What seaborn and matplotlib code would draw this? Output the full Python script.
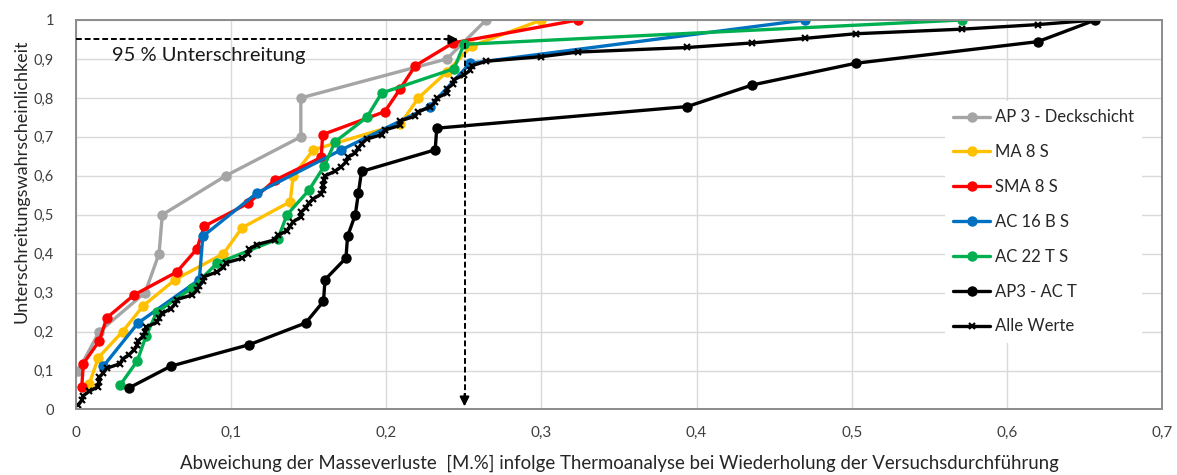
import numpy as np
import matplotlib
matplotlib.use("Agg")
import matplotlib.pyplot as plt
import seaborn as sns
from matplotlib.ticker import FuncFormatter

# Abweichung der Masseverluste [M.%] je Mischgut, aufsteigend sortiert
ap3_deckschicht = [0.0015, 0.015, 0.0445, 0.0535, 0.0556, 0.0965, 0.1449, 0.1449, 0.239, 0.2643]
ma_8_s = [0.0086, 0.0144, 0.030, 0.0434, 0.0638, 0.095, 0.107, 0.138, 0.140, 0.153,
          0.209, 0.2207, 0.239, 0.255, 0.300]
sma_8_s = [0.0037, 0.0047, 0.015, 0.0198, 0.0374, 0.0649, 0.0778, 0.0827, 0.111, 0.128,
           0.158, 0.159, 0.199, 0.209, 0.2186, 0.243, 0.3235]
ac_16_b_s = [0.0176, 0.040, 0.0795, 0.0817, 0.1165, 0.171, 0.228, 0.254, 0.470]
ac_22_t_s = [0.0284, 0.0395, 0.045, 0.052, 0.075, 0.0907, 0.130, 0.136, 0.150, 0.160,
             0.167, 0.1874, 0.197, 0.2437, 0.250, 0.571]
ap3_ac_t = [0.0342, 0.061, 0.1118, 0.148, 0.1595, 0.1605, 0.174, 0.175, 0.180, 0.182,
            0.184, 0.2315, 0.2325, 0.394, 0.436, 0.5025, 0.620, 0.657]

series_labels = ["AP 3 - Deckschicht", "MA 8 S", "SMA 8 S", "AC 16 B S", "AC 22 T S", "AP3 - AC T"]
series_values = [ap3_deckschicht, ma_8_s, sma_8_s, ac_16_b_s, ac_22_t_s, ap3_ac_t]
series_colors = ["#A5A5A5", "#FFC000", "#FF0000", "#0070C0", "#00B050", "#000000"]
all_label = "Alle Werte"

quantile_level = 0.95
quantile_value = 0.2504
x_ticks = [0, 0.1, 0.2, 0.3, 0.4, 0.5, 0.6, 0.7]
y_ticks = [0, 0.1, 0.2, 0.3, 0.4, 0.5, 0.6, 0.7, 0.8, 0.9, 1.0]


def empirical_levels(values):
    """Unterschreitungswahrscheinlichkeit = Rang / Anzahl der Werte."""
    n = len(values)
    return np.arange(1, n + 1) / n


sns.set_theme(style="whitegrid")
plt.rcParams["font.family"] = ["Lato", "DejaVu Sans"]

fig, ax = plt.subplots(figsize=(11.77, 4.75), dpi=100)
fig.subplots_adjust(left=0.0646, right=0.9873, top=0.9579, bottom=0.1379)

for label, values, color in zip(series_labels, series_values, series_colors):
    xs = np.sort(np.asarray(values))
    sns.lineplot(x=xs, y=empirical_levels(xs), ax=ax, color=color, label=label,
                 marker="o", markersize=7.5, markeredgecolor=color, markeredgewidth=0,
                 linewidth=2.4, sort=False, estimator=None)

pooled = np.sort(np.concatenate([np.asarray(v) for v in series_values]))
sns.lineplot(x=pooled, y=empirical_levels(pooled), ax=ax, color="black", label=all_label,
             marker="x", markersize=5, markeredgecolor="black", markeredgewidth=1.6,
             linewidth=2.4, sort=False, estimator=None)

# 95 %-Quantil: waagrechter und senkrechter Hilfspfeil
ax.plot([0, quantile_value - 0.008], [quantile_level, quantile_level], color="black",
        lw=1.4, ls=(0, (3, 1.5)), zorder=6)
ax.annotate("", xy=(quantile_value - 0.004, quantile_level),
            xytext=(quantile_value - 0.012, quantile_level),
            arrowprops=dict(arrowstyle="-|>", color="black", lw=1.4,
                            mutation_scale=14, shrinkA=0, shrinkB=0), zorder=7)
ax.plot([quantile_value, quantile_value], [quantile_level - 0.01, 0.03], color="black",
        lw=1.4, ls=(0, (3, 1.5)), zorder=6)
ax.annotate("", xy=(quantile_value, 0.008), xytext=(quantile_value, 0.04),
            arrowprops=dict(arrowstyle="-|>", color="black", lw=1.4,
                            mutation_scale=14, shrinkA=0, shrinkB=0), zorder=7)
ax.text(0.023, 0.91, "95 % Unterschreitung", fontsize=14.5, va="center", ha="left",
        color="#1a1a1a")

ax.set_xlim(0, 0.7)
ax.set_ylim(0, 1)
ax.set_xticks(x_ticks)
ax.set_yticks(y_ticks)
comma = FuncFormatter(lambda v, _: ("%g" % round(v, 2)).replace(".", ","))
ax.xaxis.set_major_formatter(comma)
ax.yaxis.set_major_formatter(comma)
ax.tick_params(axis="x", length=0, pad=12, labelsize=11, labelcolor="#404040")
ax.tick_params(axis="y", length=0, pad=16, labelsize=10.5, labelcolor="#404040")

ax.set_xlabel("Abweichung der Masseverluste  [M.%] infolge Thermoanalyse bei Wiederholung der Versuchsdurchführung",
              fontsize=13.4, color="#262626")
ax.set_ylabel("Unterschreitungswahrscheinlichkeit", fontsize=13, color="#262626")
ax.xaxis.set_label_coords(0.5, -0.117)
ax.yaxis.set_label_coords(-0.043, 0.585)

ax.grid(True, color="#d9d9d9", linewidth=1)
for side in ["left", "right", "top", "bottom"]:
    ax.spines[side].set_visible(True)
    ax.spines[side].set_color("#8c8c8c")
    ax.spines[side].set_linewidth(1.4)

leg = ax.legend(loc="upper left", bbox_to_anchor=(0.800, 0.792), borderaxespad=0,
                frameon=True, facecolor="white", edgecolor="none", framealpha=1,
                fontsize=12, handlelength=2.2, handletextpad=0.3, labelspacing=1.13,
                borderpad=0.5)
for t in leg.get_texts():
    t.set_color("#262626")

fig.savefig("out.png", dpi=100)
